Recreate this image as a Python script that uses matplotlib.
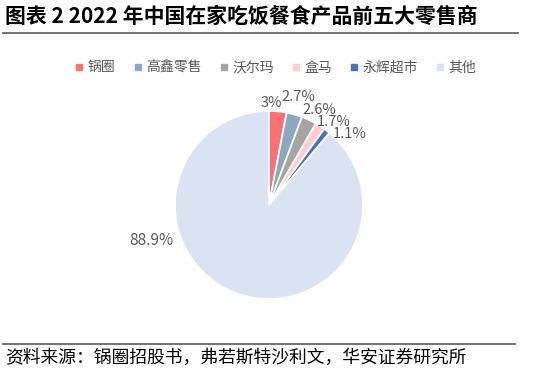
import numpy as np
import matplotlib
matplotlib.use("Agg")
import matplotlib.pyplot as plt
from matplotlib.lines import Line2D

plt.rcParams['font.family'] = ['Noto Sans CJK SC', 'DejaVu Sans']

retailers = ['锅圈', '高鑫零售', '沃尔玛', '盒马', '永辉超市', '其他']
shares = [3.0, 2.7, 2.6, 1.7, 1.1, 88.9]
share_labels = ['3%', '2.7%', '2.6%', '1.7%', '1.1%', '88.9%']
colors = ['#ff7070', '#8aa9bd', '#a5a5a5', '#ffcdd0', '#4472c4', '#dae3f1']

# label offsets from the wedge edge midpoint, in pixels (right, up)
label_offsets = [(-6, 8), (4, 17), (10, 10), (14, 4), (23, -3), (-86, 53)]

W, H = 538, 375
fig = plt.figure(figsize=(W / 100, H / 100), dpi=100)

# title and rules
fig.text(0.01, 0.955, '图表 2 2022 年中国在家吃饭餐食产品前五大零售商',
         fontsize=15, fontweight='bold', va='center', ha='left', color='black')
fig.add_artist(Line2D([0.006, 0.962], [0.912, 0.912], color='#666666', lw=1.3))
fig.add_artist(Line2D([0.006, 0.958], [0.083, 0.083], color='#666666', lw=1.3))
fig.text(0.01, 0.045, '资料来源：锅圈招股书，弗若斯特沙利文，华安证券研究所',
         fontsize=12.8, va='center', ha='left', color='black')

# pie: centre (269, 205) px, radius 94 px
cx, cy, r = 269, 205, 94
ax = fig.add_axes([(cx - r) / W, (H - cy - r) / H, 2 * r / W, 2 * r / H])
wedges, _ = ax.pie(shares, colors=colors, startangle=90, counterclock=False,
                   wedgeprops=dict(edgecolor='white', linewidth=1.2))
ax.set_xlim(-1, 1)
ax.set_ylim(-1, 1)
ax.set_aspect('equal')

for w, lab, (dx, dy) in zip(wedges, share_labels, label_offsets):
    ang = np.deg2rad((w.theta1 + w.theta2) / 2)
    ax.annotate(lab, xy=(np.cos(ang), np.sin(ang)), xycoords='data',
                xytext=(dx * 0.72, dy * 0.72), textcoords='offset points',
                ha='center', va='center', color='#595959',
                fontsize=11 if lab == '88.9%' else 10.5,
                annotation_clip=False)

# legend
handles = [Line2D([], [], marker='s', linestyle='none', markersize=5,
                  markerfacecolor=c, markeredgecolor=c) for c in colors]
fig.legend(handles, retailers, loc='center', bbox_to_anchor=(0.51, 0.82),
           ncol=6, frameon=False, fontsize=10, labelcolor='#595959',
           handletextpad=0.1, columnspacing=1.1, handlelength=1.0)

fig.savefig('out.png', dpi=100)
